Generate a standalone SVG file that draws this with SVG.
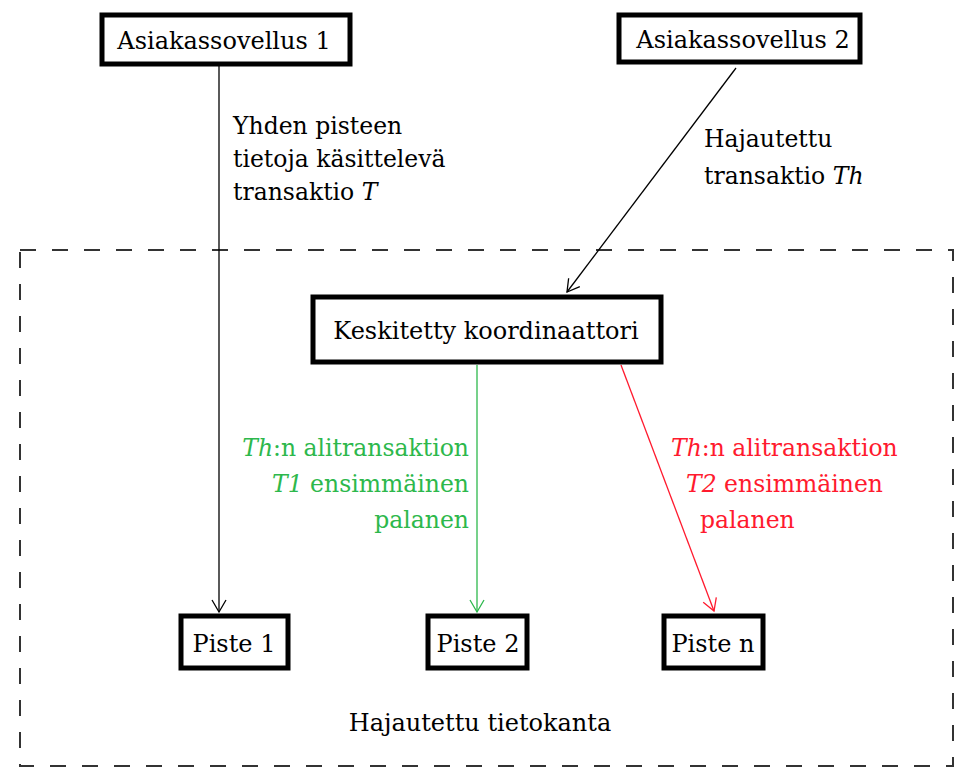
<svg xmlns="http://www.w3.org/2000/svg" width="958" height="768" viewBox="0 0 958 768">
<defs>
<style>
.box{fill:#fff;stroke:#000;stroke-width:5}
.t{font-family:"DejaVu Serif","Liberation Serif",serif;font-size:24px;fill:#000}
.lbl{font-family:"DejaVu Serif","Liberation Serif",serif;font-size:23.5px}
.it{font-style:italic}
.c{fill:none;stroke-width:1.3}
</style>
<marker id="ak" markerWidth="16" markerHeight="16" refX="13" refY="8" orient="auto" markerUnits="userSpaceOnUse"><path d="M1,1 L13,8 L1,15" fill="none" stroke="#000" stroke-width="1.3"/></marker>
<marker id="ag" markerWidth="16" markerHeight="16" refX="13" refY="8" orient="auto" markerUnits="userSpaceOnUse"><path d="M1,1 L13,8 L1,15" fill="none" stroke="#2db84c" stroke-width="1.3"/></marker>
<marker id="ar" markerWidth="16" markerHeight="16" refX="13" refY="8" orient="auto" markerUnits="userSpaceOnUse"><path d="M1,1 L13,8 L1,15" fill="none" stroke="#ff1a2e" stroke-width="1.3"/></marker>
</defs>
<rect width="958" height="768" fill="#fff"/>
<g id="tietokanta">
<rect x="20" y="250" width="933" height="516" fill="none" stroke="#333" stroke-width="2" stroke-dasharray="16,16"/>
<text class="t" x="480" y="731" text-anchor="middle">Hajautettu tietokanta</text>
</g>
<g id="connectors">
<line class="c" x1="219" y1="66" x2="219" y2="612" stroke="#000" marker-end="url(#ak)"/>
<line class="c" x1="736" y1="68" x2="567" y2="292" stroke="#000" marker-end="url(#ak)"/>
<line class="c" x1="477" y1="365" x2="477" y2="612" stroke="#2db84c" marker-end="url(#ag)"/>
<line class="c" x1="621" y1="365" x2="714" y2="611" stroke="#ff1a2e" marker-end="url(#ar)"/>
<text class="lbl" fill="#000"><tspan x="233" y="134">Yhden pisteen</tspan><tspan x="233" y="167">tietoja käsittelevä</tspan><tspan x="233" y="200">transaktio <tspan class="it">T</tspan></tspan></text>
<text class="lbl" fill="#000"><tspan x="704" y="147">Hajautettu</tspan><tspan x="704" y="184">transaktio <tspan class="it">Th</tspan></tspan></text>
<text class="lbl" fill="#2db84c" text-anchor="end"><tspan x="469" y="456"><tspan class="it">Th</tspan>:n alitransaktion</tspan><tspan x="469" y="492"><tspan class="it">T1</tspan> ensimmäinen</tspan><tspan x="469" y="528">palanen</tspan></text>
<text class="lbl" fill="#ff1a2e"><tspan x="671" y="456"><tspan class="it">Th</tspan>:n alitransaktion</tspan><tspan x="686" y="492"><tspan class="it">T2</tspan> ensimmäinen</tspan><tspan x="700" y="528">palanen</tspan></text>
</g>
<g id="asiakas1">
<rect class="box" x="102" y="15" width="248" height="49"/>
<text class="t" x="224" y="49" text-anchor="middle">Asiakassovellus 1</text>
</g>
<g id="asiakas2">
<rect class="box" x="619" y="15" width="241" height="47"/>
<text class="t" x="743" y="48" text-anchor="middle">Asiakassovellus 2</text>
</g>
<g id="koordinaattori">
<rect class="box" x="313" y="297" width="348" height="65"/>
<text class="t" x="486" y="339" text-anchor="middle">Keskitetty koordinaattori</text>
</g>
<g id="piste1">
<rect class="box" x="181" y="616" width="107" height="52"/>
<text class="t" x="234" y="652" text-anchor="middle">Piste 1</text>
</g>
<g id="piste2">
<rect class="box" x="428" y="616" width="99" height="52"/>
<text class="t" x="478" y="652" text-anchor="middle">Piste 2</text>
</g>
<g id="pisten">
<rect class="box" x="664" y="616" width="99" height="52"/>
<text class="t" x="713" y="652" text-anchor="middle">Piste n</text>
</g>
</svg>
